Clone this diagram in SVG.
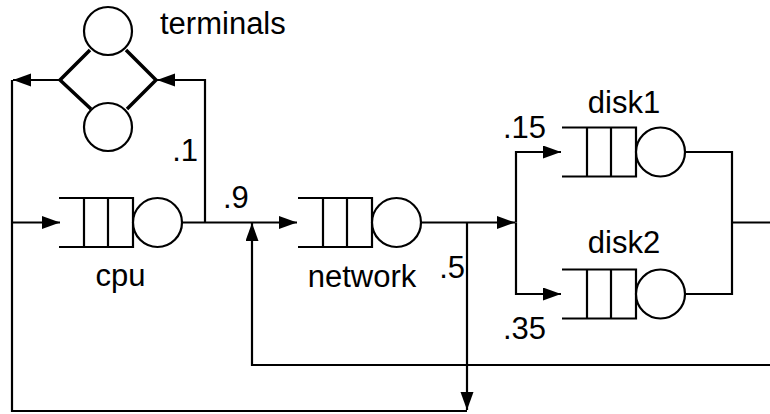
<svg xmlns="http://www.w3.org/2000/svg" width="770" height="414" viewBox="0 0 770 414">
<style>
.ln{fill:none;stroke:#000;stroke-width:2.2}
.thk{fill:none;stroke:#000;stroke-width:3.5}
.q{fill:none;stroke:#000;stroke-width:2.2}
.c{fill:#fff;stroke:#000;stroke-width:2.2}
text{font-family:"Liberation Sans",Arial,Helvetica,sans-serif;font-size:31px;fill:#000}
</style>
<defs>
<marker id="ah" markerUnits="userSpaceOnUse" markerWidth="20" markerHeight="14" refX="18" refY="6.5" orient="auto">
<path d="M0,0 L18,6.5 L0,13 z" fill="#000"/>
</marker>
<g id="queue">
<path class="q" d="M0,-24.5 H74 V24.5 H0 M25,-24.5 V24.5 M49,-24.5 V24.5"/>
<circle class="c" cx="98.5" cy="0" r="24.5"/>
</g>
</defs>
<rect width="770" height="414" fill="#fff"/>
<g id="connectors">
<path class="ln" d="M60,80 H13" marker-end="url(#ah)"/>
<path class="ln" d="M12,80 V411 H467"/>
<path class="ln" d="M12,222.5 H60" marker-end="url(#ah)"/>
<path class="ln" d="M182,222.5 H297" marker-end="url(#ah)"/>
<path class="ln" d="M205,222.5 V80 H157" marker-end="url(#ah)"/>
<path class="ln" d="M770,365 H252 V223" marker-end="url(#ah)"/>
<path class="ln" d="M421,222.5 H515" marker-end="url(#ah)"/>
<path class="ln" d="M467,222.5 V410" marker-end="url(#ah)"/>
<path class="ln" d="M516,222.5 V152 H561" marker-end="url(#ah)"/>
<path class="ln" d="M516,222.5 V294 H561" marker-end="url(#ah)"/>
<path class="ln" d="M685,152 H732 V294 H685 M732,222.5 H770"/>
</g>
<g id="terminals">
<circle class="c" cx="108" cy="31" r="24"/>
<circle class="c" cx="108" cy="127" r="24"/>
<path class="thk" d="M90,50 L60,80 L91,109 M126,50 L156,80 L127,109"/>
<text x="160" y="34">terminals</text>
</g>
<g id="cpu">
<use href="#queue" x="59" y="222.5"/>
<text x="120.5" y="286" text-anchor="middle">cpu</text>
</g>
<g id="network">
<use href="#queue" x="298" y="222.5"/>
<text x="362" y="287" text-anchor="middle">network</text>
</g>
<g id="disk1">
<use href="#queue" x="562" y="152"/>
<text x="624" y="113" text-anchor="middle">disk1</text>
</g>
<g id="disk2">
<use href="#queue" x="562" y="294"/>
<text x="624" y="253" text-anchor="middle">disk2</text>
</g>
<g id="labels">
<text x="198" y="161" text-anchor="end">.1</text>
<text x="223" y="208">.9</text>
<text x="465" y="278" text-anchor="end">.5</text>
<text x="503" y="138">.15</text>
<text x="503" y="339">.35</text>
</g>
</svg>
